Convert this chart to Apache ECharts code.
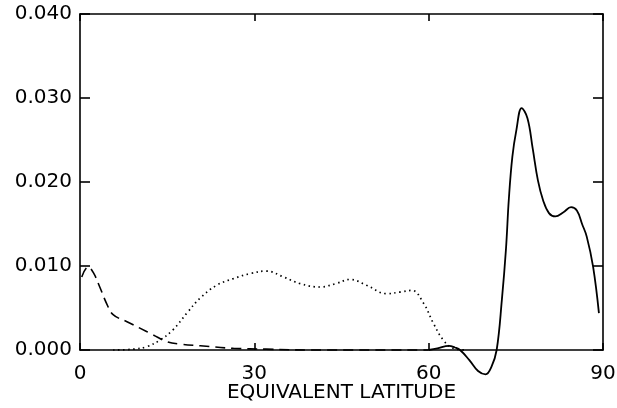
<!DOCTYPE html>
<html>
<head>
<meta charset="utf-8">
<script src="https://cdn.jsdelivr.net/npm/echarts@6/dist/echarts.min.js"></script>
<style>
  html, body { margin: 0; padding: 0; background: #fff; }
  #chart { width: 617px; height: 408px; }
</style>
</head>
<body>
<div id="chart"></div>
<script>
// Equivalent latitude profiles: [latitude, value]
const solidSeries = [
  [60.0, 0.0000], [61.5, 0.0002], [63.5, 0.0005], [64.5, 0.0003], [65.4, 0.0000],
  [67.0, -0.0012], [68.5, -0.0025], [69.8, -0.0029], [70.8, -0.0020], [71.7, 0.0000],
  [72.6, 0.0060], [73.3, 0.0120], [73.8, 0.0180], [74.4, 0.0230], [75.1, 0.0262],
  [76.0, 0.0288], [77.0, 0.0276], [77.9, 0.0240], [78.8, 0.0202], [79.7, 0.0178],
  [80.7, 0.0163], [81.8, 0.0159], [83.2, 0.0164], [84.5, 0.0170], [85.5, 0.0166],
  [86.4, 0.0150], [87.2, 0.0135], [88.3, 0.0099], [89.3, 0.0044]
];
const dashedSeries = [
  [0.3, 0.0087], [1.4, 0.0099], [2.3, 0.0092], [3.4, 0.0075], [4.6, 0.0055],
  [5.7, 0.0042], [8.0, 0.0034], [10.3, 0.0026], [12.6, 0.0018], [14.9, 0.0010],
  [17.2, 0.0007], [20.7, 0.0005], [26.4, 0.0002], [32.0, 0.0001], [40.0, 0.0000],
  [60.0, 0.0000]
];
const dottedSeries = [
  [5.7, 0.0000], [9.2, 0.0001], [11.5, 0.0004], [13.8, 0.0012], [16.0, 0.0024],
  [18.4, 0.0044], [20.7, 0.0062], [23.5, 0.0077], [26.4, 0.0085], [29.3, 0.0091],
  [32.1, 0.0094], [35.0, 0.0087], [37.9, 0.0079], [41.3, 0.0075], [44.0, 0.0079],
  [46.5, 0.0084], [49.3, 0.0077], [52.8, 0.0067], [55.1, 0.0069], [57.1, 0.0071],
  [59.1, 0.0056], [60.8, 0.0032], [62.5, 0.0012], [64.2, 0.0002], [66.5, 0.0000]
];
const xTicks = [0, 30, 60, 90];
const yTicks = [0.000, 0.010, 0.020, 0.030, 0.040];
const xTitle = 'EQUIVALENT LATITUDE';

const font = 'DejaVu Sans';
const chart = echarts.init(document.getElementById('chart'));

const frameLine = { show: true, onZero: false, lineStyle: { color: '#000', width: 1.6 } };
const tickStyle = { color: '#000', width: 1.6 };

chart.setOption({
  animation: false,
  backgroundColor: '#fff',
  grid: { left: 80, right: 14, top: 14, bottom: 58, containLabel: false, outerBoundsMode: 'none' },
  xAxis: [
    {
      type: 'value', position: 'bottom', min: xTicks[0], max: xTicks[xTicks.length - 1], interval: 30,
      axisLine: frameLine,
      axisTick: { show: true, inside: true, length: 7, lineStyle: tickStyle },
      axisLabel: { color: '#000', fontFamily: font, fontSize: 20, margin: 14 },
      splitLine: { show: false },
      name: xTitle, nameLocation: 'middle', nameGap: 33, nameMoveOverlap: false,
      nameTextStyle: { color: '#000', fontFamily: font, fontSize: 20 }
    },
    {
      type: 'value', position: 'top', min: 0, max: 90, interval: 30,
      axisLine: frameLine,
      axisTick: { show: true, inside: true, length: 7, lineStyle: tickStyle },
      axisLabel: { show: false }, splitLine: { show: false }
    }
  ],
  yAxis: [
    {
      type: 'value', position: 'left', min: yTicks[0], max: yTicks[yTicks.length - 1], interval: 0.01,
      axisLine: frameLine,
      axisTick: { show: true, inside: true, length: 10, lineStyle: tickStyle },
      axisLabel: { color: '#000', fontFamily: font, fontSize: 20, margin: 8,
        formatter: v => v.toFixed(3) },
      splitLine: { show: false }
    },
    {
      type: 'value', position: 'right', min: 0, max: 0.04, interval: 0.01,
      axisLine: frameLine,
      axisTick: { show: true, inside: true, length: 10, lineStyle: tickStyle },
      axisLabel: { show: false }, splitLine: { show: false }
    }
  ],
  series: [
    {
      type: 'line', data: solidSeries, smooth: 0.4, symbol: 'none', clip: false,
      lineStyle: { color: '#000', width: 1.8, type: 'solid' }
    },
    {
      type: 'line', data: dashedSeries, smooth: 0.4, symbol: 'none', clip: false,
      lineStyle: { color: '#000', width: 1.6, type: [10, 6] }
    },
    {
      type: 'line', data: dottedSeries, smooth: 0.4, symbol: 'none', clip: false,
      lineStyle: { color: '#000', width: 1.7, type: [1.5, 3.5] }
    }
  ]
});
</script>
</body>
</html>
